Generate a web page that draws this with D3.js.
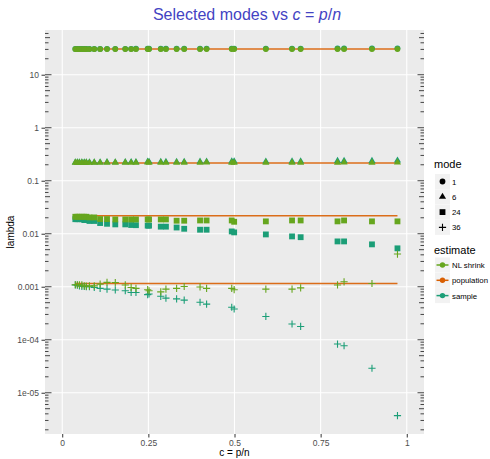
<!DOCTYPE html>
<html>
<head>
<meta charset="utf-8">
<script src="https://cdn.jsdelivr.net/npm/d3@7"></script>
<style>
  body { margin: 0; background: #fff; }
  text { font-family: "Liberation Sans", Arial, Helvetica, sans-serif; }
</style>
</head>
<body>
<svg id="chart" width="490" height="459"></svg>
<script>
// ---- data -------------------------------------------------------------
const cValues = [0.038, 0.044, 0.050, 0.057, 0.064, 0.070, 0.079, 0.093, 0.110, 0.130,
                 0.154, 0.183, 0.200, 0.214, 0.248, 0.252, 0.286, 0.301, 0.332, 0.354,
                 0.400, 0.419, 0.492, 0.499, 0.591, 0.667, 0.692, 0.799, 0.818, 0.899, 0.973];

const modes = ["1", "6", "24", "36"];
const estimates = ["NL shrink", "population", "sample"];

const xTicks = [0, 0.25, 0.5, 0.75, 1];
const xTickLabels = ["0", "0.25", "0.5", "0.75", "1"];
const yTicks = [10, 1, 0.1, 0.01, 0.001, 1e-4, 1e-5];
const yTickLabels = ["10", "1", "0.1", "0.01", "0.001", "1e-04", "1e-05"];

// mode 1
const mode1Population = [30.5, 30.5, 30.5, 30.5, 30.5, 30.5, 30.5, 30.5, 30.5, 30.5, 30.5,
  30.5, 30.5, 30.5, 30.5, 30.5, 30.5, 30.5, 30.5, 30.5, 30.5, 30.5, 30.5, 30.5, 30.5, 30.5,
  30.5, 30.5, 30.5, 30.5, 30.5];
const mode1NL = [30.4, 30.5, 30.4, 30.5, 30.5, 30.4, 30.5, 30.5, 30.4, 30.5, 30.5,
  30.4, 30.5, 30.5, 30.4, 30.5, 30.5, 30.4, 30.5, 30.5, 30.4, 30.5, 30.5, 30.4, 30.5, 30.5,
  30.4, 30.5, 30.5, 30.4, 30.5];
const mode1Sample = [30.6, 30.6, 30.6, 30.7, 30.6, 30.7, 30.7, 30.7, 30.7, 30.8, 30.8,
  30.8, 30.8, 30.9, 30.9, 30.9, 30.9, 31.0, 31.0, 31.0, 31.0, 31.1, 31.1, 31.1, 31.2, 31.2,
  31.2, 31.3, 31.3, 31.4, 31.4];

// mode 6
const mode6Population = [0.217, 0.217, 0.217, 0.217, 0.217, 0.217, 0.217, 0.217, 0.217, 0.217,
  0.217, 0.217, 0.217, 0.217, 0.217, 0.217, 0.217, 0.217, 0.217, 0.217, 0.217, 0.217, 0.217,
  0.217, 0.217, 0.217, 0.217, 0.217, 0.217, 0.217, 0.217];
const mode6NL = [0.219, 0.219, 0.218, 0.219, 0.218, 0.219, 0.218, 0.219, 0.218, 0.219, 0.220,
  0.219, 0.218, 0.219, 0.221, 0.220, 0.219, 0.218, 0.220, 0.219, 0.220, 0.221, 0.219, 0.220,
  0.219, 0.220, 0.219, 0.220, 0.221, 0.220, 0.221];
const mode6Sample = [0.221, 0.221, 0.222, 0.221, 0.222, 0.222, 0.223, 0.222, 0.223, 0.224, 0.223,
  0.224, 0.225, 0.224, 0.229, 0.228, 0.226, 0.227, 0.227, 0.228, 0.229, 0.229, 0.231, 0.232,
  0.230, 0.231, 0.232, 0.236, 0.237, 0.236, 0.240];

// mode 24
const mode24Population = [0.0219, 0.0219, 0.0219, 0.0219, 0.0219, 0.0219, 0.0219, 0.0219, 0.0219,
  0.0219, 0.0219, 0.0219, 0.0219, 0.0219, 0.0219, 0.0219, 0.0219, 0.0219, 0.0219, 0.0219, 0.0219,
  0.0219, 0.0219, 0.0219, 0.0219, 0.0219, 0.0219, 0.0219, 0.0219, 0.0219, 0.0219];
const mode24NL = [0.0209, 0.0209, 0.0209, 0.0209, 0.0209, 0.0209, 0.0203, 0.0203, 0.0189, 0.0189,
  0.0186, 0.0186, 0.0186, 0.0186, 0.0186, 0.0186, 0.0186, 0.0186, 0.0176, 0.0176, 0.0178, 0.0178,
  0.0178, 0.0168, 0.0171, 0.0178, 0.0178, 0.0171, 0.0178, 0.0171, 0.0171];
const mode24Sample = [0.0188, 0.0188, 0.0188, 0.0188, 0.0181, 0.0181, 0.0174, 0.0174, 0.0159, 0.0154,
  0.0150, 0.0150, 0.0146, 0.0145, 0.0142, 0.0142, 0.0136, 0.0136, 0.0131, 0.0124, 0.0119, 0.0119,
  0.01105, 0.0106, 0.0097, 0.0089, 0.0086, 0.00716, 0.00716, 0.0063, 0.0053];

// mode 36
const mode36Population = [0.00115, 0.00115, 0.00115, 0.00115, 0.00115, 0.00115, 0.00115, 0.00115,
  0.00115, 0.00115, 0.00115, 0.00115, 0.00115, 0.00115, 0.00115, 0.00115, 0.00115, 0.00115, 0.00115,
  0.00115, 0.00115, 0.00115, 0.00115, 0.00115, 0.00115, 0.00115, 0.00115, 0.00115, 0.00115, 0.00115,
  0.00115];
const mode36NL = [0.00109, 0.00109, 0.00109, 0.00108, 0.00104, 0.00103, 0.00104, 0.00104, 0.00112,
  0.00121, 0.00120, 0.00108, 0.00097, 0.00093, 0.00088, 0.00084, 0.00080, 0.00090, 0.00093, 0.00101,
  0.00099, 0.00093, 0.00093, 0.00088, 0.00090, 0.00090, 0.00095, 0.00108, 0.00124, 0.00115, 0.00414];
const mode36Sample = [0.00108, 0.00107, 0.00104, 0.00102, 0.00101, 0.00100, 0.00100, 0.00097, 0.00093,
  0.00090, 0.00087, 0.00084, 0.00078, 0.00078, 0.00071, 0.00073, 0.00066, 0.00061, 0.00059, 0.00056,
  0.00051, 0.00047, 0.00041, 0.00038, 0.000275, 0.000198, 0.000178, 0.000083, 0.000077, 0.000029,
  0.0000037];

const series = [
  { mode: "1",  population: mode1Population,  nl: mode1NL,  sample: mode1Sample },
  { mode: "6",  population: mode6Population,  nl: mode6NL,  sample: mode6Sample },
  { mode: "24", population: mode24Population, nl: mode24NL, sample: mode24Sample },
  { mode: "36", population: mode36Population, nl: mode36NL, sample: mode36Sample }
];

// ---- styling ----------------------------------------------------------
const colors = { "NL shrink": "#66A61E", "population": "#D95F02", "sample": "#1B9E77" };
const panel = { left: 45, right: 424, top: 30, bottom: 434 };

const svg = d3.select("#chart");

// ---- scales -----------------------------------------------------------
const x = d3.scaleLinear().domain([-0.05, 1.05]).range([panel.left, panel.right]);

const allValues = series.flatMap(s => [...s.population, ...s.nl, ...s.sample]);
const lo = Math.log10(d3.min(allValues)), hi = Math.log10(d3.max(allValues));
const pad = (hi - lo) * 0.05;
const y = d3.scaleLog()
  .domain([Math.pow(10, lo - pad), Math.pow(10, hi + pad)])
  .range([panel.bottom, panel.top]);

// ---- panel & grid ----------------------------------------------------
svg.append("rect")
  .attr("x", panel.left).attr("y", panel.top)
  .attr("width", panel.right - panel.left).attr("height", panel.bottom - panel.top)
  .attr("fill", "#EBEBEB");

const grid = svg.append("g").attr("stroke", "#fff").attr("stroke-width", 1.1);
grid.selectAll("line.v").data(xTicks).join("line")
  .attr("x1", d => x(d)).attr("x2", d => x(d))
  .attr("y1", panel.top).attr("y2", panel.bottom);
grid.selectAll("line.h").data(yTicks).join("line")
  .attr("y1", d => y(d)).attr("y2", d => y(d))
  .attr("x1", panel.left).attr("x2", panel.right);

// log tick marks on the left and right edges of the panel
const logTicks = [];
for (let e = -8; e <= 3; e++) {
  for (let k = 1; k <= 9; k++) {
    const v = k * Math.pow(10, e);
    const py = y(v);
    if (py >= panel.top && py <= panel.bottom) logTicks.push({ py, len: k === 1 ? 6.5 : (k === 5 ? 5 : 3.5) });
  }
}
const lt = svg.append("g").attr("stroke", "#333").attr("stroke-width", 0.9);
lt.selectAll("line.l").data(logTicks).join("line")
  .attr("x1", panel.left).attr("x2", d => panel.left + d.len)
  .attr("y1", d => d.py).attr("y2", d => d.py);
lt.selectAll("line.r").data(logTicks).join("line")
  .attr("x1", panel.right).attr("x2", d => panel.right - d.len)
  .attr("y1", d => d.py).attr("y2", d => d.py);

// ---- axes -------------------------------------------------------------
const xAxis = svg.append("g")
  .attr("transform", `translate(0,${panel.bottom})`)
  .call(d3.axisBottom(x).tickValues(xTicks).tickFormat((d, i) => xTickLabels[i]).tickSize(3.5).tickPadding(2.5));
const yAxis = svg.append("g")
  .attr("transform", `translate(${panel.left},0)`)
  .call(d3.axisLeft(y).tickValues(yTicks).tickFormat((d, i) => yTickLabels[i]).tickSize(3.5).tickPadding(2.5));
[xAxis, yAxis].forEach(a => {
  a.select(".domain").remove();
  a.selectAll(".tick line").attr("stroke", "#333").attr("stroke-width", 1);
  a.selectAll(".tick text").attr("fill", "#4D4D4D").style("font-size", "8.5px")
    .style("font-family", "'Liberation Sans', Arial, sans-serif");
});

// ---- marks ------------------------------------------------------------
const line = d3.line().x((d, i) => x(cValues[i])).y(d => y(d));
svg.append("g").selectAll("path").data(series).join("path")
  .attr("d", s => line(s.population))
  .attr("fill", "none").attr("stroke", colors.population)
  .attr("stroke-width", 1.5).attr("stroke-opacity", 0.9);

const shapePath = {
  "1": d3.symbol(d3.symbolCircle, 26)(),
  "6": d3.symbol(d3.symbolTriangle, 22)(),
  "24": d3.symbol(d3.symbolSquare, 34)(),
  "36": "M-3.6,0H3.6M0,-3.6V3.6"
};
function drawPoints(g, s, key, color) {
  const pts = s[key].map((v, i) => ({ c: cValues[i], v }));
  const isCross = s.mode === "36";
  g.selectAll(null).data(pts).join("path")
    .attr("transform", d => `translate(${x(d.c)},${y(d.v)})`)
    .attr("d", shapePath[s.mode])
    .attr("fill", isCross ? "none" : color)
    .attr("stroke", isCross ? color : "none")
    .attr("stroke-width", isCross ? 1.1 : 0);
}
const pointLayer = svg.append("g");
series.forEach(s => drawPoints(pointLayer.append("g"), s, "sample", colors.sample));
series.forEach(s => drawPoints(pointLayer.append("g"), s, "nl", colors["NL shrink"]));

// ---- titles -----------------------------------------------------------
const title = svg.append("text")
  .attr("x", 247).attr("y", 20).attr("text-anchor", "middle")
  .attr("fill", "#4343C3").style("font-size", "16px");
title.append("tspan").text("Selected modes vs ");
title.append("tspan").attr("font-style", "italic").text("c");
title.append("tspan").text(" = ");
title.append("tspan").attr("font-style", "italic").text("p");
title.append("tspan").text("/");
title.append("tspan").attr("font-style", "italic").text("n");

svg.append("text")
  .attr("x", (panel.left + panel.right) / 2).attr("y", 456)
  .attr("text-anchor", "middle").style("font-size", "10px").text("c = p/n");

svg.append("text")
  .attr("transform", `translate(14,${(panel.top + panel.bottom) / 2}) rotate(-90)`)
  .attr("text-anchor", "middle").style("font-size", "10px").text("lambda");

// ---- legends ----------------------------------------------------------
const leg = svg.append("g");
const keyX = 435, keySize = 15, labelX = 452, rowGap = 15.3;

leg.append("text").attr("x", 434).attr("y", 168).style("font-size", "11px").text("mode");
modes.forEach((m, i) => {
  const cy = 181.5 + i * rowGap;
  leg.append("rect").attr("x", keyX).attr("y", cy - keySize / 2)
    .attr("width", keySize).attr("height", keySize).attr("fill", "#F2F2F2");
  leg.append("path")
    .attr("transform", `translate(${keyX + keySize / 2},${cy})`)
    .attr("d", shapePath[m])
    .attr("fill", m === "36" ? "none" : "#000")
    .attr("stroke", m === "36" ? "#000" : "none")
    .attr("stroke-width", 1.1);
  leg.append("text").attr("x", labelX).attr("y", cy + 3)
    .style("font-size", "7.8px").text(m);
});

leg.append("text").attr("x", 434).attr("y", 254).style("font-size", "11px").text("estimate");
estimates.forEach((e, i) => {
  const cy = 265 + i * rowGap;
  leg.append("rect").attr("x", keyX).attr("y", cy - keySize / 2)
    .attr("width", keySize).attr("height", keySize).attr("fill", "#F2F2F2");
  leg.append("line").attr("x1", keyX + 1.5).attr("x2", keyX + keySize - 1.5)
    .attr("y1", cy).attr("y2", cy).attr("stroke", colors[e]).attr("stroke-width", 1.5);
  leg.append("circle").attr("cx", keyX + keySize / 2).attr("cy", cy).attr("r", 2.7)
    .attr("fill", colors[e]);
  leg.append("text").attr("x", labelX).attr("y", cy + 3)
    .style("font-size", "7.8px").text(e);
});
</script>
</body>
</html>
